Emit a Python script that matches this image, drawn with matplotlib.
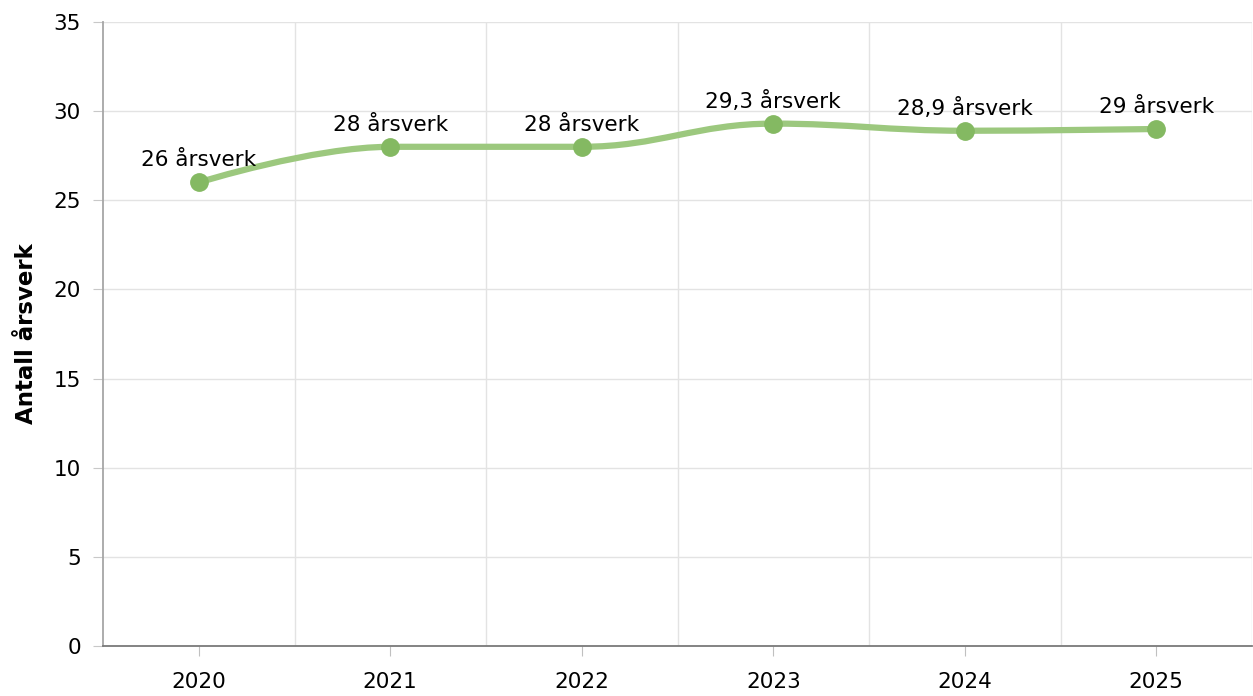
import numpy as np
import matplotlib.pyplot as plt
from matplotlib.path import Path
from matplotlib.patches import PathPatch

years = ['2020', '2021', '2022', '2023', '2024', '2025']
aarsverk = [26, 28, 28, 29.3, 28.9, 29]
labels = ['26 årsverk', '28 årsverk', '28 årsverk', '29,3 årsverk', '28,9 årsverk', '29 årsverk']

line_color = '#9cc87e'
dot_color = '#84b962'


def spline_path(xs, ys, smoothing=1.5):
    # bezier spline through the points, same idea as highcharts' spline series
    denom = smoothing + 1
    n = len(xs)
    right = [None] * n
    verts = [(xs[0], ys[0])]
    codes = [Path.MOVETO]
    for i in range(1, n):
        x, y = xs[i], ys[i]
        lx, ly = xs[i - 1], ys[i - 1]
        left_c = (x, y)
        if i < n - 1:
            nx, ny = xs[i + 1], ys[i + 1]
            lcx = (smoothing * x + lx) / denom
            lcy = (smoothing * y + ly) / denom
            rcx = (smoothing * x + nx) / denom
            rcy = (smoothing * y + ny) / denom
            corr = (rcy - lcy) * (rcx - x) / (rcx - lcx) + y - rcy
            lcy += corr
            rcy += corr
            if lcy > ly and lcy > y:
                lcy = max(ly, y)
                rcy = 2 * y - lcy
            elif lcy < ly and lcy < y:
                lcy = min(ly, y)
                rcy = 2 * y - lcy
            if rcy > ny and rcy > y:
                rcy = max(ny, y)
                lcy = 2 * y - rcy
            elif rcy < ny and rcy < y:
                rcy = min(ny, y)
                lcy = 2 * y - rcy
            left_c = (lcx, lcy)
            right[i] = (rcx, rcy)
        prev_c = right[i - 1] if right[i - 1] is not None else (lx, ly)
        verts += [prev_c, left_c, (x, y)]
        codes += [Path.CURVE4] * 3
    return Path(verts, codes)


fig = plt.figure(figsize=(12.53, 6.96), dpi=100)
ax = fig.add_axes([103 / 1253, 50 / 696, 1149 / 1253, 624 / 696])

x = np.arange(len(years))
ax.add_patch(PathPatch(spline_path(list(x), aarsverk), facecolor='none',
                       edgecolor=line_color, lw=4.5, capstyle='round', zorder=3))
ax.plot(x, aarsverk, 'o', color=dot_color, markersize=12.5, zorder=4)

for xi, yi, lab in zip(x, aarsverk, labels):
    ax.annotate(lab, (xi, yi), xytext=(0, 16), textcoords='offset pixels',
                ha='center', va='baseline', fontsize=15.5, color='black', zorder=5)

ax.set_xlim(-0.5, len(years) - 0.5)
ax.set_ylim(0, 35)
ax.set_yticks(range(0, 36, 5))
ax.set_xticks(x)
ax.set_xticklabels(years)
ax.set_xticks(np.arange(0.5, len(years), 1), minor=True)

ax.grid(True, axis='y', color='#e3e3e3', lw=1)
ax.grid(True, axis='x', which='minor', color='#e3e3e3', lw=1)
ax.set_axisbelow(True)

for s in ['top', 'right']:
    ax.spines[s].set_visible(False)
ax.spines['left'].set_color('#a6a6a6')
ax.spines['bottom'].set_color('#7a7a7a')
ax.spines['left'].set_linewidth(1.3)
ax.spines['bottom'].set_linewidth(1.3)

ax.tick_params(axis='y', length=7, color='#c8c8c8', labelsize=15.5, pad=9)
ax.tick_params(axis='x', which='major', length=7, color='#c0c0c0', labelsize=15.5, pad=12)
ax.tick_params(axis='x', which='minor', length=0)

ax.set_ylabel('Antall årsverk', fontsize=16.5, fontweight='bold', labelpad=11)

fig.savefig('out.png', dpi=100)
